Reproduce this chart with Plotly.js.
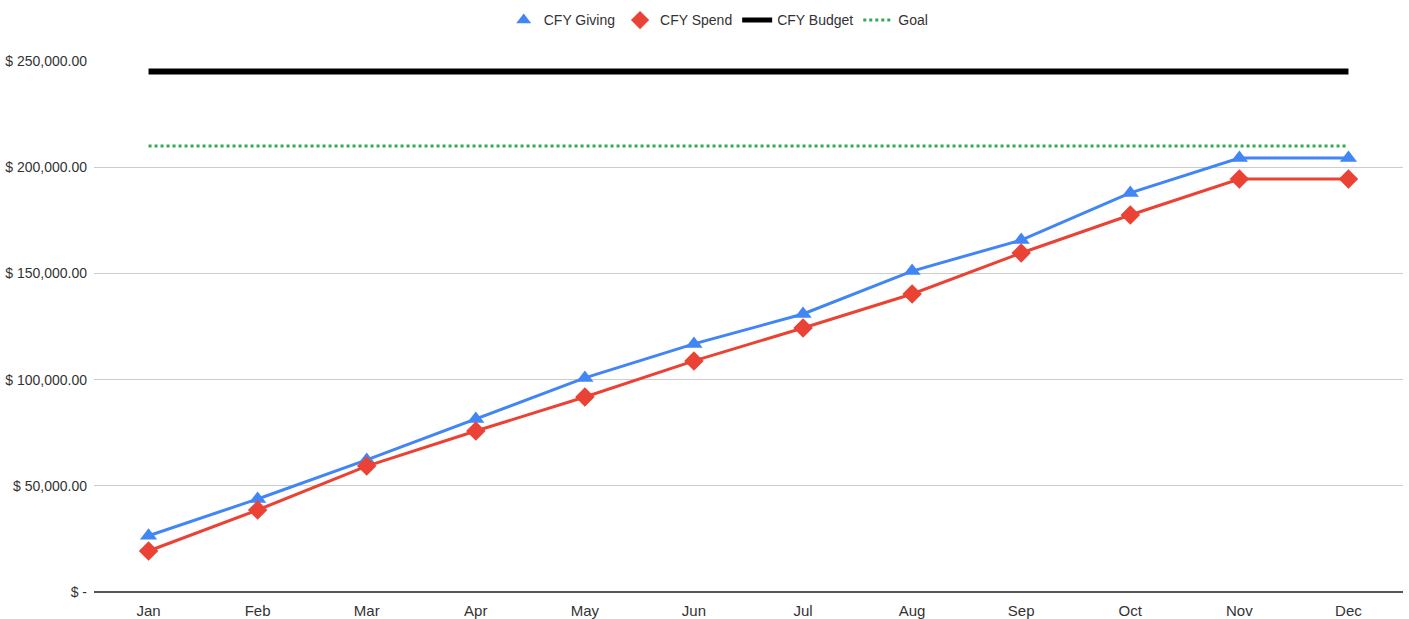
<!DOCTYPE html>
<html><head><meta charset="utf-8">
<script src="https://cdn.plot.ly/plotly-3.0.1.min.js"></script>
<style>body{margin:0;background:#fff}#c{width:1409px;height:619px}</style>
</head><body><div id="c"></div>
<script>
const months = ["Jan","Feb","Mar","Apr","May","Jun","Jul","Aug","Sep","Oct","Nov","Dec"];
const cfyGiving = [26500,43800,62200,81500,100800,116800,130900,151100,165700,187900,204300,204300];
const cfySpend = [19300,38600,59300,75800,91800,108800,124300,140300,159600,177500,194400,194400];
const cfyBudget = [245000,245000,245000,245000,245000,245000,245000,245000,245000,245000,245000,245000];
const goal = [210000,210000,210000,210000,210000,210000,210000,210000,210000,210000,210000,210000];
const yTickVals = [0,50000,100000,150000,200000,250000];
const yTickText = ["$ -","$ 50,000.00","$ 100,000.00","$ 150,000.00","$ 200,000.00","$ 250,000.00"];

const blue="#4285F4", red="#EA4335", green="#34A853";
const traces = [
  {x:months,y:cfyBudget,mode:"lines",line:{color:"#000",width:6},showlegend:false},
  {x:months,y:goal,mode:"lines",line:{color:green,width:3,dash:"dot"},showlegend:false},
  {x:months,y:cfyGiving,mode:"lines+markers",line:{color:blue,width:3},marker:{symbol:"triangle-up",size:15,color:blue},showlegend:false},
  {x:months,y:cfySpend,mode:"lines+markers",line:{color:red,width:3},marker:{symbol:"diamond",size:15,color:red},showlegend:false},
  {x:[null],y:[null],name:"CFY Giving",mode:"markers",marker:{symbol:"triangle-up",size:13,color:blue}},
  {x:[null],y:[null],name:"CFY Spend",mode:"markers",marker:{symbol:"diamond",size:14,color:red}},
  {x:[null],y:[null],name:"CFY Budget",mode:"lines",line:{color:"#000",width:5}},
  {x:[null],y:[null],name:"Goal",mode:"lines",line:{color:green,width:3,dash:"dot"}}
];
const layout = {
  width:1409,height:619,
  margin:{l:94,r:6,t:61,b:27,autoexpand:false},
  paper_bgcolor:"#fff",plot_bgcolor:"#fff",
  font:{family:"Liberation Sans, Arial, sans-serif",size:14,color:"#333"},
  showlegend:true,
  legend:{orientation:"h",x:0.313,xanchor:"left",yref:"container",y:0.967,yanchor:"middle",font:{size:14,color:"#333"},itemwidth:30,traceorder:"normal"},
  xaxis:{type:"category",range:[-0.5,11.5],showgrid:false,zeroline:false,showline:false,ticks:"",ticklabelstandoff:8,tickfont:{size:15,color:"#333"},fixedrange:true},
  yaxis:{range:[0,250000],tickvals:yTickVals,ticktext:yTickText,showgrid:true,gridcolor:"#cccccc",gridwidth:1,zeroline:true,zerolinecolor:"#555",zerolinewidth:2,showline:false,ticks:"",ticklabelstandoff:6,tickfont:{size:14,color:"#333"},fixedrange:true},
};
Plotly.newPlot("c",traces,layout,{displayModeBar:false,staticPlot:true});
</script></body></html>
